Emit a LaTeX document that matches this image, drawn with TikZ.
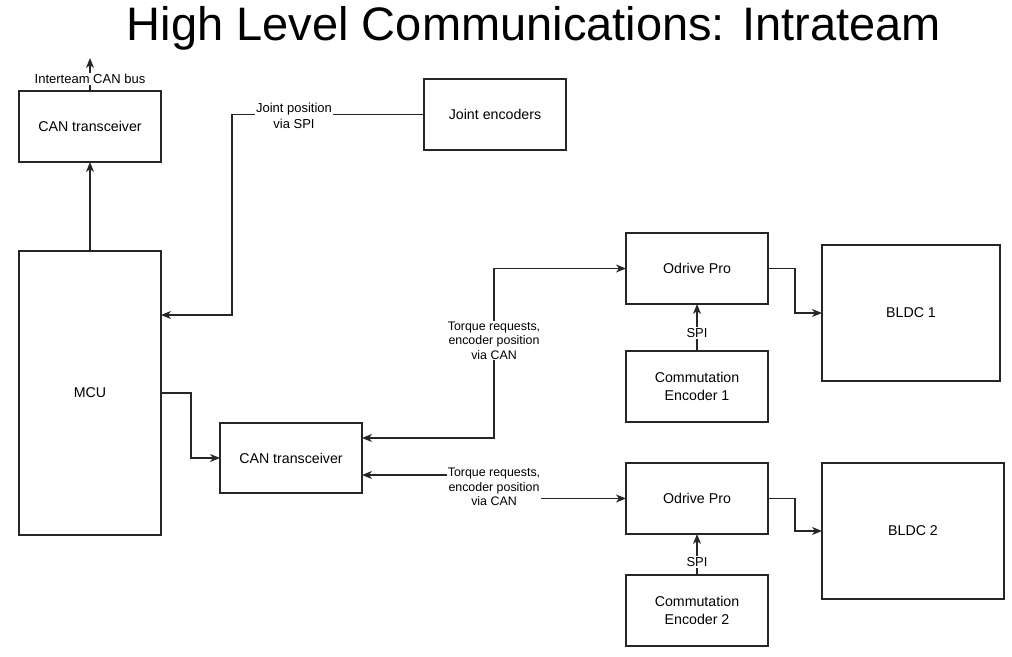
\documentclass[tikz,border=0pt]{standalone}
\usepackage{fontspec}
\setmainfont{Liberation Sans}
\usetikzlibrary{arrows.meta}
\tikzset{
  box/.style={draw=black!85, line width=1.1pt, fill=white, minimum width=142pt, minimum height=71pt, inner sep=0pt, outer sep=0pt, align=center, font=\fontsize{14.2}{17.5}\selectfont},
  conn/.style={draw=black!85, line width=1.2pt},
  arr/.style={conn, -{Stealth[length=10pt,width=8pt,inset=3pt]}},
  biarr/.style={conn, {Stealth[length=10pt,width=8pt,inset=3pt]}-{Stealth[length=10pt,width=8pt,inset=3pt]}},
  elabel/.style={fill=white, inner sep=1pt, align=center, font=\fontsize{12.4}{14.5}\selectfont},
  jlabel/.style={fill=white, inner sep=1pt, align=center, font=\fontsize{13}{16}\selectfont},
}
\begin{document}
\begin{tikzpicture}[x=1pt, y=-1pt]
\useasboundingbox (0,0) rectangle (1012,656);
% title
\node[anchor=base, inner sep=0pt, font=\fontsize{47}{50}\selectfont] (title) at (534,40) {High Level Communications: Intrateam};
% boxes
\node[box] (cant) at (90,126.5) {CAN transceiver};
\node[box] (je) at (495,114.5) {Joint encoders};
\node[box, minimum height=284pt] (mcu) at (90,393) {MCU};
\node[box, minimum height=70pt] (canm) at (291,458) {CAN transceiver};
\node[box] (od1) at (697,268.5) {Odrive Pro};
\node[box, minimum width=178pt, minimum height=136pt] (bldc1) at (911,313) {BLDC 1};
\node[box] (ce1) at (697,386.5) {Commutation\\Encoder 1};
\node[box] (od2) at (697,498.5) {Odrive Pro};
\node[box, minimum width=182pt, minimum height=136pt] (bldc2) at (913,531) {BLDC 2};
\node[box] (ce2) at (697,610.5) {Commutation\\Encoder 2};
% connectors
\coordinate (bus) at (90,58);
\draw[arr] (cant.north) -- (bus);
\node[jlabel] (buslbl) at (90,79) {Interteam CAN bus};
\draw[arr] (mcu.north) -- (cant.south);
\draw[arr] (je.west) -| (232,315) -- (mcu.east |- 232,315);
\node[jlabel] (jlbl) at (294,115.5) {Joint position\\via SPI};
\draw[arr] (mcu.east) -- (191,393) |- (canm.west);
\draw[biarr] (canm.east |- 0,438) -| (494,268.5) -- (od1.west);
\node[elabel] (tl1) at (494,340.5) {Torque requests,\\encoder position\\via CAN};
\draw[biarr] (canm.east |- 0,475) -| (494,498.5) -- (od2.west);
\node[elabel] (tl2) at (494,487) {Torque requests,\\encoder position\\via CAN};
\draw[arr] (od1.east) -- (795,268.5) |- (bldc1.west);
\draw[arr] (od2.east) -- (795,498.5) |- (bldc2.west);
\draw[arr] (ce1.north) -- (od1.south);
\node[jlabel] (spi1) at (697,333) {SPI};
\draw[arr] (ce2.north) -- (od2.south);
\node[jlabel] (spi2) at (697,562) {SPI};
\end{tikzpicture}
\end{document}
